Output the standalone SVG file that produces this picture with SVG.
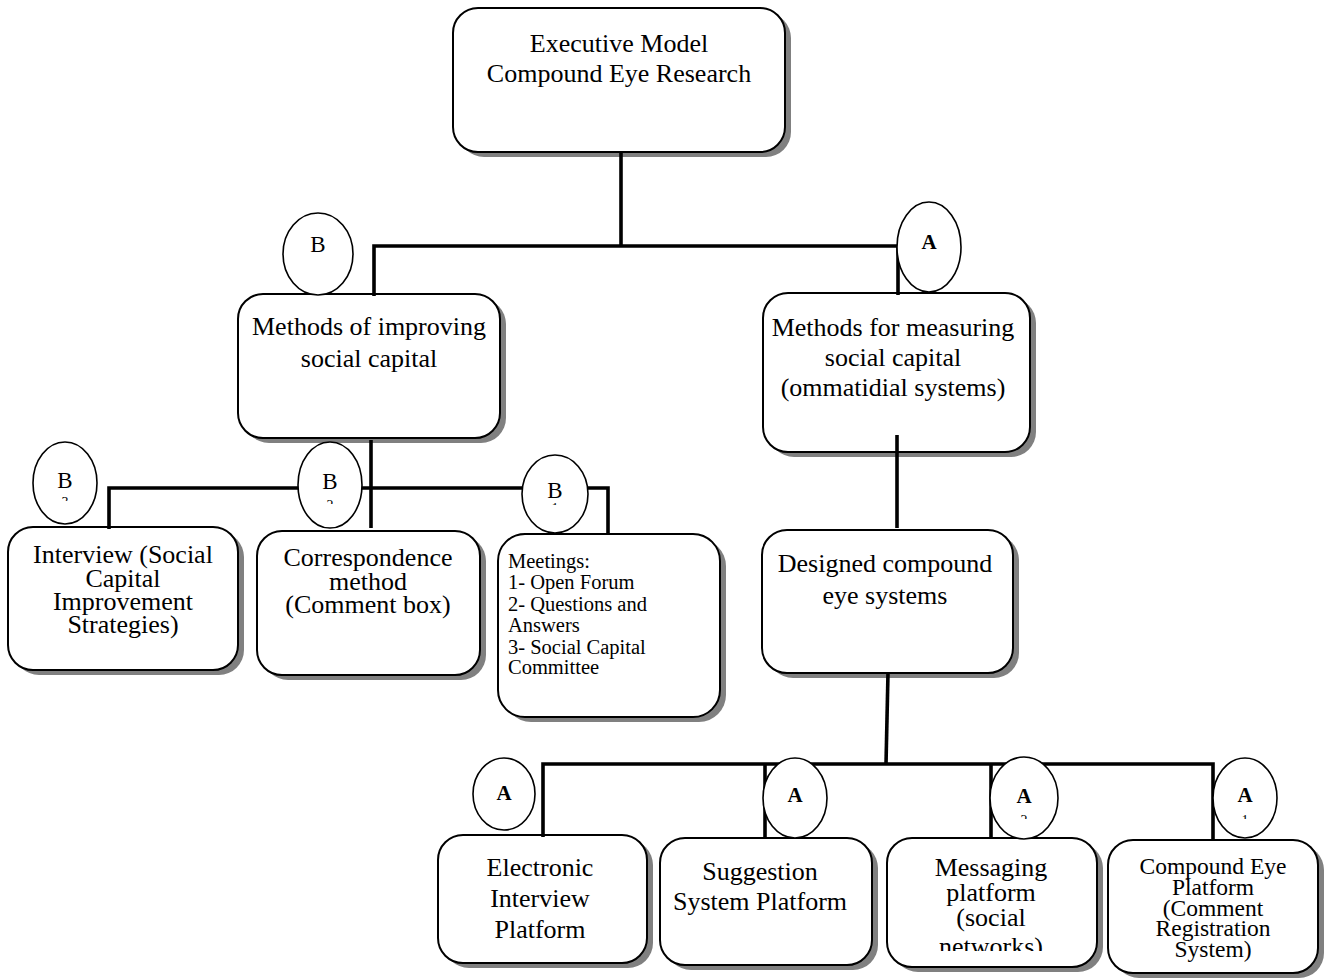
<svg xmlns="http://www.w3.org/2000/svg" width="1330" height="978" viewBox="0 0 1330 978">
<style>
  text { font-family: "Liberation Serif", "Times New Roman", serif; fill: #000; }
  .t26 { font-size: 26px; text-anchor: middle; }
  .t24 { font-size: 23.5px; text-anchor: middle; }
  .t20 { font-size: 20.5px; }
  .box { fill: #fff; stroke: #000; stroke-width: 2; }
  .shadow { fill: #808080; stroke: none; }
  .circ { fill: #fff; stroke: #000; stroke-width: 1.6; }
  .lb { font-size: 23px; text-anchor: middle; }
  .la { font-size: 21px; font-weight: bold; text-anchor: middle; }
  .mark { font-size: 14px; text-anchor: middle; }
  .conn line, .conn polyline { stroke: #000; stroke-width: 3.6; fill: none; stroke-linecap: butt; }
</style>
<defs>
  <clipPath id="clipMsg"><rect x="880" y="830" width="230" height="121"/></clipPath>
  <clipPath id="cm1"><rect x="40" y="495" width="50" height="6"/></clipPath>
  <clipPath id="cm2"><rect x="305" y="499" width="50" height="5"/></clipPath>
  <clipPath id="cm3"><rect x="530" y="502" width="50" height="3"/></clipPath>
  <clipPath id="cm4"><rect x="1000" y="814" width="50" height="5"/></clipPath>
  <clipPath id="cm5"><rect x="1220" y="814" width="50" height="5"/></clipPath>
</defs>

<!-- nodes (boxes) -->
<g id="node-root">
  <rect class="shadow" x="459" y="13" width="332" height="144" rx="25"/>
  <rect class="box" x="453" y="8" width="332" height="144" rx="25"/>
  <text class="t26" x="619" y="52">Executive Model</text>
  <text class="t26" x="619" y="82">Compound Eye Research</text>
</g>

<g id="node-improving">
  <rect class="shadow" x="244" y="299" width="262" height="144" rx="25"/>
  <rect class="box" x="238" y="294" width="262" height="144" rx="25"/>
  <text class="t26" x="369" y="335">Methods of improving</text>
  <text class="t26" x="369" y="367">social capital</text>
</g>

<g id="node-measuring">
  <rect class="shadow" x="769" y="298" width="267" height="159" rx="25"/>
  <rect class="box" x="763" y="293" width="267" height="159" rx="25"/>
  <text class="t26" x="893" y="336">Methods for measuring</text>
  <text class="t26" x="893" y="366">social capital</text>
  <text class="t26" x="893" y="396">(ommatidial systems)</text>
</g>

<g id="node-designed">
  <rect class="shadow" x="768" y="535" width="251" height="143" rx="25"/>
  <rect class="box" x="762" y="530" width="251" height="143" rx="25"/>
  <text class="t26" x="885" y="572">Designed compound</text>
  <text class="t26" x="885" y="604">eye systems</text>
</g>

<g id="node-interview">
  <rect class="shadow" x="14" y="532" width="230" height="143" rx="25"/>
  <rect class="box" x="8" y="527" width="230" height="143" rx="25"/>
  <text class="t26" x="123" y="563">Interview (Social</text>
  <text class="t26" x="123" y="587">Capital</text>
  <text class="t26" x="123" y="610">Improvement</text>
  <text class="t26" x="123" y="633">Strategies)</text>
</g>

<g id="node-correspondence">
  <rect class="shadow" x="263" y="536" width="223" height="144" rx="25"/>
  <rect class="box" x="257" y="531" width="223" height="144" rx="25"/>
  <text class="t26" x="368" y="566">Correspondence</text>
  <text class="t26" x="368" y="590">method</text>
  <text class="t26" x="368" y="613">(Comment box)</text>
</g>

<g id="node-meetings">
  <rect class="shadow" x="504" y="539" width="222" height="183" rx="27"/>
  <rect class="box" x="498" y="534" width="222" height="183" rx="27"/>
  <text class="t20" x="508" y="568">Meetings:</text>
  <text class="t20" x="508" y="589">1- Open Forum</text>
  <text class="t20" x="508" y="611">2- Questions and</text>
  <text class="t20" x="508" y="632">Answers</text>
  <text class="t20" x="508" y="654">3- Social Capital</text>
  <text class="t20" x="508" y="674">Committee</text>
</g>

<g id="node-electronic">
  <rect class="shadow" x="444" y="840" width="209" height="128" rx="25"/>
  <rect class="box" x="438" y="835" width="209" height="128" rx="25"/>
  <text class="t26" x="540" y="876">Electronic</text>
  <text class="t26" x="540" y="907">Interview</text>
  <text class="t26" x="540" y="938">Platform</text>
</g>

<g id="node-suggestion">
  <rect class="shadow" x="666" y="843" width="212" height="127" rx="25"/>
  <rect class="box" x="660" y="838" width="212" height="127" rx="25"/>
  <text class="t26" x="760" y="880">Suggestion</text>
  <text class="t26" x="760" y="910">System Platform</text>
</g>

<g id="node-messaging">
  <rect class="shadow" x="893" y="843" width="210" height="129" rx="25"/>
  <rect class="box" x="887" y="838" width="210" height="129" rx="25"/>
  <g clip-path="url(#clipMsg)">
    <text class="t26" x="991" y="876">Messaging</text>
    <text class="t26" x="991" y="901">platform</text>
    <text class="t26" x="991" y="926">(social</text>
    <text class="t26" x="991" y="955">networks)</text>
  </g>
</g>

<g id="node-compound-platform">
  <rect class="shadow" x="1114" y="845" width="210" height="133" rx="25"/>
  <rect class="box" x="1108" y="840" width="210" height="133" rx="25"/>
  <text class="t24" x="1213" y="874">Compound Eye</text>
  <text class="t24" x="1213" y="895">Platform</text>
  <text class="t24" x="1213" y="916">(Comment</text>
  <text class="t24" x="1213" y="936">Registration</text>
  <text class="t24" x="1213" y="957">System)</text>
</g>

<!-- connectors -->
<g id="connectors" class="conn">
  <line x1="621" y1="152" x2="621" y2="246"/>
  <polyline points="374,296 374,246 898,246 898,295"/>
  <line x1="897" y1="435" x2="897" y2="528"/>
  <line x1="371" y1="440" x2="371" y2="528"/>
  <polyline points="109,529 109,488 608,488 608,533"/>
  <line x1="888" y1="673" x2="886" y2="764"/>
  <polyline points="543,837 543,764 1213,764 1213,840"/>
  <line x1="765" y1="764" x2="765" y2="839"/>
  <line x1="991" y1="764" x2="991" y2="838"/>
</g>

<!-- label circles -->
<g id="label-B-top">
  <ellipse class="circ" cx="318" cy="254" rx="35" ry="41"/>
  <text class="lb" x="318" y="252">B</text>
</g>
<g id="label-A-top">
  <ellipse class="circ" cx="929" cy="247" rx="32" ry="45"/>
  <text class="la" x="929" y="249">A</text>
</g>
<g id="label-B1">
  <ellipse class="circ" cx="65" cy="483" rx="32" ry="41"/>
  <text class="lb" x="65" y="488">B</text>
  <text class="mark" x="65" y="506.5" clip-path="url(#cm1)">3</text>
</g>
<g id="label-B2">
  <ellipse class="circ" cx="330" cy="485" rx="32" ry="43"/>
  <text class="lb" x="330" y="489">B</text>
  <text class="mark" x="330" y="510" clip-path="url(#cm2)">2</text>
</g>
<g id="label-B3">
  <ellipse class="circ" cx="555" cy="494" rx="33" ry="39"/>
  <text class="lb" x="555" y="498">B</text>
  <text class="mark" x="555" y="512.5" clip-path="url(#cm3)">1</text>
</g>
<g id="label-A1">
  <ellipse class="circ" cx="504" cy="794" rx="31" ry="36"/>
  <text class="la" x="504" y="800">A</text>
</g>
<g id="label-A2">
  <ellipse class="circ" cx="795" cy="798" rx="32" ry="40"/>
  <text class="la" x="795" y="802">A</text>
</g>
<g id="label-A3">
  <ellipse class="circ" cx="1024" cy="798" rx="34" ry="41"/>
  <text class="la" x="1024" y="803">A</text>
  <text class="mark" x="1024" y="824.5" clip-path="url(#cm4)">2</text>
</g>
<g id="label-A4">
  <ellipse class="circ" cx="1245" cy="798" rx="32" ry="40"/>
  <text class="la" x="1245" y="802">A</text>
  <text class="mark" x="1245" y="824.5" clip-path="url(#cm5)">1</text>
</g>
</svg>
